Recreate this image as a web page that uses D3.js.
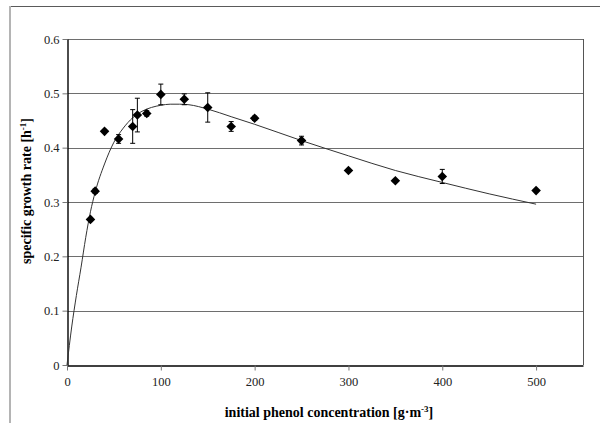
<!DOCTYPE html>
<html>
<head>
<meta charset="utf-8">
<script src="https://cdn.jsdelivr.net/npm/d3@7"></script>
<style>
  body { margin: 0; background: #fff; }
  svg { display: block; font-family: "Liberation Serif", "Times New Roman", serif; }
</style>
</head>
<body>
<div id="chart"></div>
<script>
// measured points: initial phenol concentration vs specific growth rate
let conc = [25, 30, 40, 55, 70, 75, 85, 100, 125, 150, 175, 200, 250, 300, 350, 400, 500];
let rate = [0.268, 0.320, 0.430, 0.416, 0.439, 0.460, 0.463, 0.498, 0.489, 0.474, 0.439, 0.454, 0.413, 0.358, 0.339, 0.347, 0.321];
let err = [0, 0.004, 0, 0.008, 0.031, 0.031, 0.005, 0.019, 0.010, 0.027, 0.009, 0.004, 0.008, 0, 0, 0.013, 0];

// fitted model curve
let fitConc = [0, 5, 10, 15, 20, 25, 30, 40, 50, 60, 70, 80, 90, 100, 110, 120, 130, 150, 175, 200, 250, 300, 350, 400, 450, 500];
let fitRate = [0, 0.07, 0.128, 0.18, 0.235, 0.282, 0.318, 0.37, 0.41, 0.436, 0.455, 0.467, 0.474, 0.478, 0.48, 0.48, 0.479, 0.471, 0.457, 0.443, 0.413, 0.385, 0.358, 0.336, 0.315, 0.296];

let xTicks = [0, 100, 200, 300, 400, 500];
let yTicks = [0, 0.1, 0.2, 0.3, 0.4, 0.5, 0.6];

let W = 600, H = 423;
let margin = { top: 39, right: 17, bottom: 58, left: 67 },
  width = W - margin.left - margin.right,
  height = H - margin.top - margin.bottom;

let root = d3.select("#chart")
  .append("svg")
  .attr("width", W)
  .attr("height", H);

// outer chart frame (cut off at right and bottom)
root.append("line")
  .attr("x1", 10).attr("x2", W).attr("y1", 6.5).attr("y2", 6.5)
  .attr("stroke", "#5a5a5a");
root.append("line")
  .attr("x1", 10).attr("x2", 10).attr("y1", 6).attr("y2", H)
  .attr("stroke", "#b4b4b4").attr("stroke-width", 2);

let svg = root.append("g")
  .attr("transform", "translate(" + margin.left + "," + margin.top + ")");

let x = d3.scaleLinear().domain([0, 550]).range([0, width]);
let y = d3.scaleLinear().domain([0, 0.6]).range([height, 0]);

// gridlines
svg.append("g")
  .selectAll("line")
  .data(yTicks.slice(1))
  .enter()
  .append("line")
  .attr("x1", 0).attr("x2", width)
  .attr("y1", d => Math.round(y(d)) + 0.5)
  .attr("y2", d => Math.round(y(d)) + 0.5)
  .attr("stroke", "#6e6e6e");

// right border
svg.append("line")
  .attr("x1", width + 0.5).attr("x2", width + 0.5)
  .attr("y1", 0).attr("y2", height)
  .attr("stroke", "#555");

// axes
let xAxis = svg.append("g")
  .attr("transform", "translate(0," + (Math.round(height) + 0.5) + ")")
  .call(d3.axisBottom(x).tickValues(xTicks).tickSize(5).tickPadding(7).tickSizeOuter(0));
let yAxis = svg.append("g")
  .attr("transform", "translate(0.5,0)")
  .call(d3.axisLeft(y).tickValues(yTicks).tickSize(5).tickPadding(3).tickSizeOuter(0)
    .tickFormat(d => d === 0 ? "0" : d3.format(".1f")(d)));

[xAxis, yAxis].forEach(a => {
  a.attr("font-family", null);
  a.select(".domain").attr("stroke", "#000").attr("stroke-width", 1.4);
  a.selectAll(".tick line").attr("stroke", "#777");
  a.selectAll("text").attr("fill", "#222").style("font-size", "12.5px")
    .style("font-family", "'Liberation Serif', serif");
});

// fitted curve
let line = d3.line()
  .x(d => x(d[0]))
  .y(d => y(d[1]))
  .curve(d3.curveMonotoneX);

svg.append("path")
  .datum(fitConc.map((c, i) => [c, fitRate[i]]))
  .attr("d", line)
  .attr("fill", "none")
  .attr("stroke", "#333")
  .attr("stroke-width", 1);

let pts = conc.map((c, i) => ({ c: c, r: rate[i], e: err[i] }));

// error bars
let bars = svg.append("g")
  .selectAll("g")
  .data(pts.filter(d => d.e > 0))
  .enter()
  .append("g")
  .attr("stroke", "#000")
  .attr("stroke-width", 1);
bars.append("line")
  .attr("x1", d => x(d.c)).attr("x2", d => x(d.c))
  .attr("y1", d => y(d.r + d.e)).attr("y2", d => y(d.r - d.e));
bars.append("line")
  .attr("x1", d => x(d.c) - 2.5).attr("x2", d => x(d.c) + 2.5)
  .attr("y1", d => y(d.r + d.e)).attr("y2", d => y(d.r + d.e));
bars.append("line")
  .attr("x1", d => x(d.c) - 2.5).attr("x2", d => x(d.c) + 2.5)
  .attr("y1", d => y(d.r - d.e)).attr("y2", d => y(d.r - d.e));

// diamond markers
svg.append("g")
  .selectAll("path")
  .data(pts)
  .enter()
  .append("path")
  .attr("d", d3.symbol(d3.symbolSquare, 46))
  .attr("transform", d => "translate(" + x(d.c) + "," + y(d.r) + ") rotate(45)")
  .attr("fill", "#000");

// axis titles
let xt = root.append("text")
  .attr("x", margin.left + width / 2 + 4)
  .attr("y", 417)
  .attr("text-anchor", "middle")
  .style("font-size", "14px")
  .style("font-weight", "bold")
  .text("initial phenol concentration [g·m");
xt.append("tspan").attr("dy", -5).style("font-size", "9px").text("-3");
xt.append("tspan").attr("dy", 5).text("]");

let yt = root.append("text")
  .attr("transform", "translate(31,191) rotate(-90)")
  .attr("text-anchor", "middle")
  .style("font-size", "14px")
  .style("font-weight", "bold")
  .text("specific growth rate [h");
yt.append("tspan").attr("dy", -5).style("font-size", "9px").text("-1");
yt.append("tspan").attr("dy", 5).text("]");
</script>
</body>
</html>
